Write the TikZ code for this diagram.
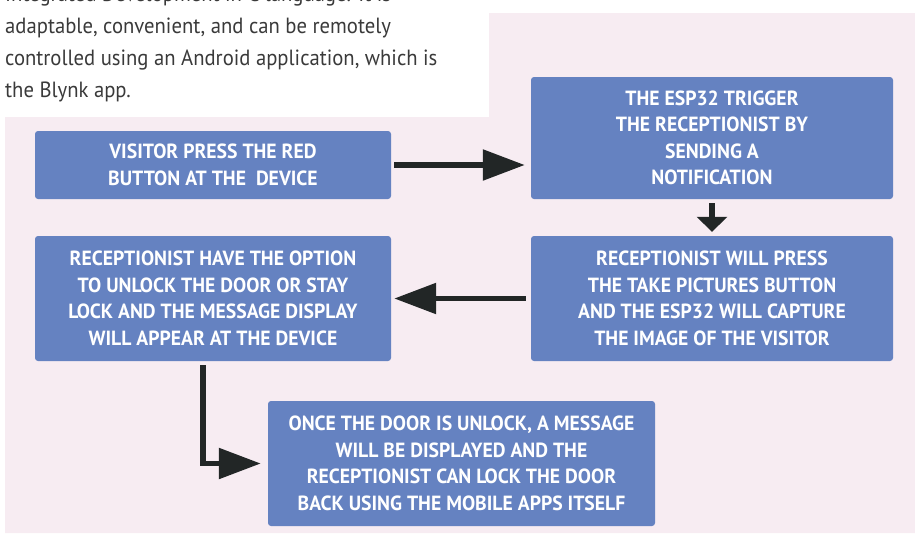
\documentclass[tikz,border=0pt]{standalone}
\usepackage{fontspec}
\setmainfont{PT Sans}
\newfontfamily\boxfont{PT Sans}[FakeStretch=0.96]
\newfontfamily\introfont{PT Sans}[FakeStretch=0.94]
\usetikzlibrary{arrows.meta, positioning}

\definecolor{boxblue}{HTML}{6582C1}
\definecolor{bgpink}{HTML}{F7ECF2}
\definecolor{arrowgray}{HTML}{222626}
\definecolor{introgray}{HTML}{3A3A3A}

\tikzset{
  stepbox/.style={fill=boxblue, rounded corners=3pt, text=white, inner sep=0pt,
    font=\boxfont\bfseries\fontsize{20.5}{26.5}\selectfont, align=center},
  flow/.style={arrowgray, line width=5.5pt, -{Triangle[length=42pt, width=30pt]}},
}

\begin{document}
\begin{tikzpicture}[x=1pt, y=-1pt]
        \useasboundingbox (0,0) rectangle (915,533);
        % page background
        \fill[bgpink] (5,533) -- (5,117) -- (489,117) -- (489,13) -- (915,13) -- (915,533) -- cycle;
        \node[anchor=base west, inner sep=0pt, align=left, text=introgray, font=\introfont\fontsize{22}{32}\selectfont] (intro) at (5,97)
            {Integrated Development in C language. It is\\
             adaptable, convenient, and can be remotely\\
             controlled using an Android application, which is\\
             the Blynk app.};
        %
        \node[stepbox, minimum width=356, minimum height=68] (visitor) at (213,165)
            {VISITOR PRESS THE RED\\BUTTON AT THE\ \ DEVICE};
        \node[stepbox, minimum width=362, minimum height=122] (trigger) at (712,138)
            {THE ESP32 TRIGGER\\THE RECEPTIONIST BY\\SENDING A\\NOTIFICATION};
        \node[stepbox, minimum width=362, minimum height=125] (capture) at (712,298.5)
            {RECEPTIONIST WILL PRESS\\THE TAKE PICTURES BUTTON\\AND THE ESP32 WILL CAPTURE\\THE IMAGE OF THE VISITOR};
        \node[stepbox, minimum width=356, minimum height=125] (option) at (213,298.5)
            {RECEPTIONIST HAVE THE OPTION\\TO UNLOCK THE DOOR OR STAY\\LOCK AND THE MESSAGE DISPLAY\\WILL APPEAR AT THE DEVICE};
        \node[stepbox, minimum width=387, minimum height=125] (unlock) at (461.5,463.5)
            {ONCE THE DOOR IS UNLOCK, A MESSAGE\\WILL BE DISPLAYED AND THE\\RECEPTIONIST CAN LOCK THE DOOR\\BACK USING THE MOBILE APPS ITSELF};
        %
        \draw[flow, shorten <=3pt, shorten >=6pt] (visitor.east) -- (visitor.east -| trigger.west);
        \draw[flow, -{Triangle[length=15pt, width=30pt]}, shorten <=4pt, shorten >=4pt] (trigger.south) -- (capture.north);
        \draw[flow, shorten <=5pt, shorten >=3pt] (capture.west) -- (option.east);
        \draw[flow, shorten <=4pt, shorten >=7pt] ([xshift=-10pt]option.south) |- (unlock.west);
\end{tikzpicture}
\end{document}
